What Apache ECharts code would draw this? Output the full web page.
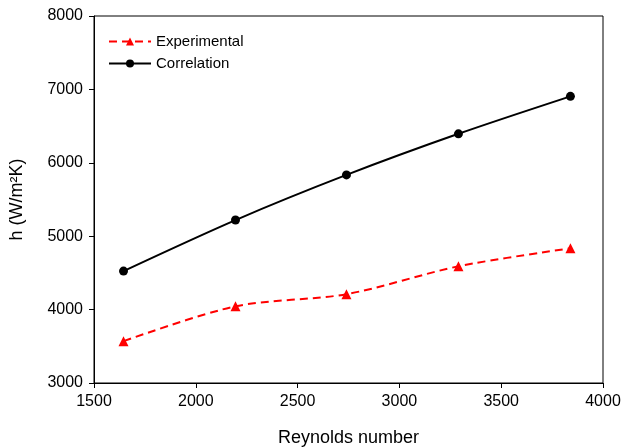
<!DOCTYPE html>
<html>
<head>
<meta charset="utf-8">
<script src="https://cdn.jsdelivr.net/npm/echarts@6/dist/echarts.min.js"></script>
<style>
  html, body { margin: 0; padding: 0; background: #fff; }
  #chart { width: 623px; height: 448px; }
</style>
</head>
<body>
<div id="chart"></div>
<script>
const reynolds = [1645, 2195, 2740, 3290, 3840];
const experimental = [3570, 4045, 4210, 4590, 4835];
const correlation = [4525, 5220, 5835, 6395, 6905];

const font = 'Liberation Sans, Arial, sans-serif';
const chart = echarts.init(document.getElementById('chart'));

const pairs = (ys) => reynolds.map((x, i) => [x, ys[i]]);
const plain = (v) => String(v);

chart.setOption({
  backgroundColor: '#fff',
  animation: false,
  textStyle: { fontFamily: font },
  grid: {
    left: 94,
    right: 20,
    top: 16,
    bottom: 65,
    containLabel: false,
    outerBoundsMode: 'none',
    show: true,
    borderColor: '#000',
    borderWidth: 1
  },
  legend: {
    orient: 'vertical',
    left: 103,
    top: 29,
    itemWidth: 42,
    itemHeight: 10,
    itemGap: 7,
    textStyle: { fontFamily: font, fontSize: 15, color: '#000' },
    data: ['Experimental', 'Correlation']
  },
  xAxis: {
    type: 'value',
    min: 1500,
    max: 4000,
    interval: 500,
    name: 'Reynolds number',
    nameLocation: 'middle',
    nameGap: 46,
    nameTextStyle: { fontFamily: font, fontSize: 18, color: '#000' },
    axisLine: { lineStyle: { color: '#000', width: 1 } },
    axisTick: { show: true, length: 5, lineStyle: { color: '#000' } },
    axisLabel: { fontFamily: font, fontSize: 16, color: '#000', margin: 11, formatter: plain },
    splitLine: { show: false }
  },
  yAxis: {
    type: 'value',
    min: 3000,
    max: 8000,
    interval: 1000,
    name: 'h (W/m²K)',
    nameLocation: 'middle',
    nameGap: 68,
    nameTextStyle: { fontFamily: font, fontSize: 18, color: '#000' },
    axisLine: { show: true, lineStyle: { color: '#000', width: 1 } },
    axisTick: { show: true, length: 5, lineStyle: { color: '#000' } },
    axisLabel: { fontFamily: font, fontSize: 16, color: '#000', margin: 11, formatter: plain },
    splitLine: { show: false }
  },
  series: [
    {
      name: 'Experimental',
      type: 'line',
      smooth: 0.3,
      symbol: 'triangle',
      symbolSize: 10,
      lineStyle: { color: '#ff0000', width: 2, type: [8, 5] },
      itemStyle: { color: '#ff0000' },
      data: pairs(experimental)
    },
    {
      name: 'Correlation',
      type: 'line',
      smooth: 0.3,
      symbol: 'circle',
      symbolSize: 9,
      lineStyle: { color: '#000', width: 2 },
      itemStyle: { color: '#000' },
      data: pairs(correlation)
    }
  ]
});
</script>
</body>
</html>
